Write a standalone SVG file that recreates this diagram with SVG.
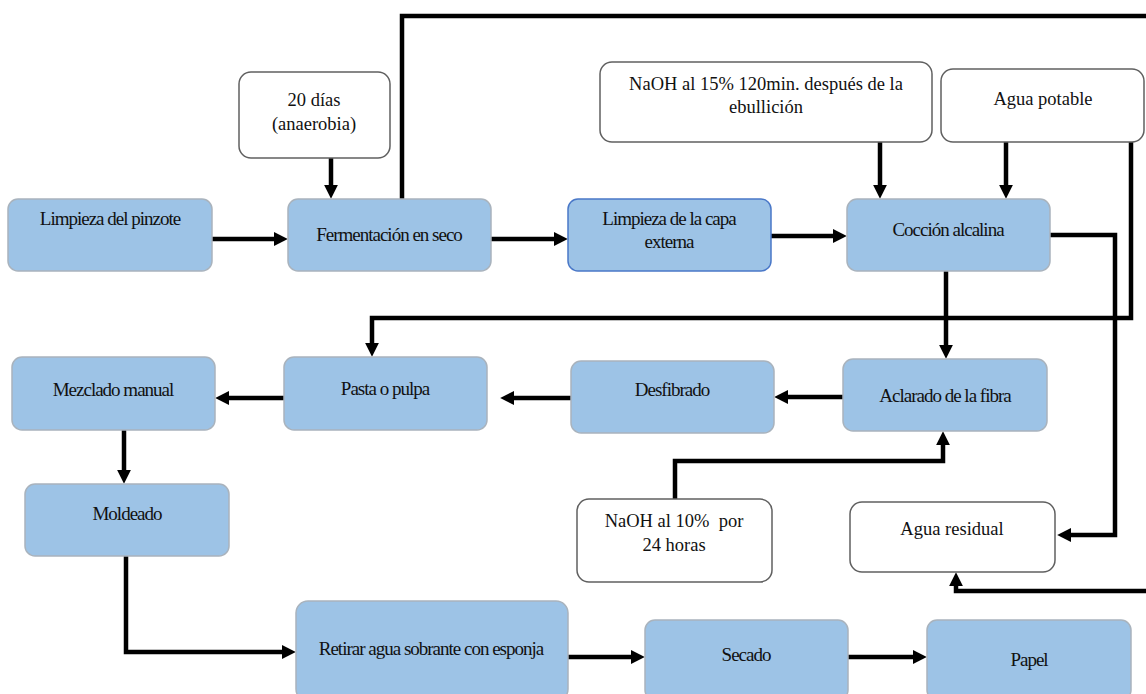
<svg xmlns="http://www.w3.org/2000/svg" width="1146" height="694" viewBox="0 0 1146 694">
<style>
.b{fill:#9dc3e6;stroke:#a9b3bd;stroke-width:1.5}
.bb{fill:#9dc3e6;stroke:#4a78c8;stroke-width:1.5}
.w{fill:#ffffff;stroke:#606060;stroke-width:1.5}
.t{font-family:'Liberation Serif','DejaVu Serif',serif;font-size:19px;letter-spacing:-1px;fill:#111;text-anchor:middle}
.tw{font-family:'Liberation Serif','DejaVu Serif',serif;font-size:18.5px;fill:#111;text-anchor:middle}
.c path{fill:none;stroke:#000;stroke-width:4.5;stroke-linejoin:miter}
</style>
<defs>
<marker id="ah" viewBox="0 0 10 10" refX="3" refY="5" markerWidth="14" markerHeight="14" markerUnits="userSpaceOnUse" orient="auto">
<path d="M0,0 L10,5 L0,10 z" fill="#000"/>
</marker>
</defs>
<rect width="1146" height="694" fill="#fff"/>

<g class="c">
<path d="M212,239 H278" marker-end="url(#ah)"/>
<path d="M331,158 V189" marker-end="url(#ah)"/>
<path d="M402,199 V16 H1146"/>
<path d="M491,239 H558" marker-end="url(#ah)"/>
<path d="M771,236 H837" marker-end="url(#ah)"/>
<path d="M880,142 V189" marker-end="url(#ah)"/>
<path d="M1006,142 V189" marker-end="url(#ah)"/>
<path d="M1131,142 V318 H372 V347" marker-end="url(#ah)"/>
<path d="M946,271 V349" marker-end="url(#ah)"/>
<path d="M1050,235 H1115 V535 H1067" marker-end="url(#ah)"/>
<path d="M1146,591 H956 V582" marker-end="url(#ah)"/>
<path d="M675,499 V461 H943 V441" marker-end="url(#ah)"/>
<path d="M843,397 H784" marker-end="url(#ah)"/>
<path d="M571,398 H510" marker-end="url(#ah)"/>
<path d="M284,398 H225" marker-end="url(#ah)"/>
<path d="M124,430 V474" marker-end="url(#ah)"/>
<path d="M126,556 V652 H286" marker-end="url(#ah)"/>
<path d="M568,657 H635" marker-end="url(#ah)"/>
<path d="M848,657 H917" marker-end="url(#ah)"/>
</g>

<g id="n-limpieza-pinzote"><rect class="b" x="8" y="199" width="204" height="72" rx="10"/><text class="t" x="110" y="225">Limpieza del pinzote</text></g>
<g id="n-fermentacion"><rect class="b" x="288" y="199" width="203" height="72" rx="10"/><text class="t" x="389" y="241">Fermentación en seco</text></g>
<g id="n-limpieza-capa"><rect class="bb" x="568" y="199" width="203" height="72" rx="10"/><text class="t" x="669" y="225">Limpieza de la capa</text><text class="t" x="669" y="248">externa</text></g>
<g id="n-coccion"><rect class="b" x="847" y="199" width="203" height="72" rx="10"/><text class="t" x="948" y="236">Cocción alcalina</text></g>
<g id="n-pasta"><rect class="b" x="284" y="357" width="203" height="73" rx="10"/><text class="t" x="385" y="395">Pasta o pulpa</text></g>
<g id="n-mezclado"><rect class="b" x="12" y="357" width="203" height="73" rx="10"/><text class="t" x="113" y="396">Mezclado manual</text></g>
<g id="n-desfibrado"><rect class="b" x="571" y="361" width="203" height="72" rx="10"/><text class="t" x="672" y="396">Desfibrado</text></g>
<g id="n-aclarado"><rect class="b" x="843" y="359" width="204" height="72" rx="10"/><text class="t" x="945" y="402">Aclarado de la fibra</text></g>
<g id="n-moldeado"><rect class="b" x="25" y="484" width="204" height="72" rx="10"/><text class="t" x="127" y="520">Moldeado</text></g>
<g id="n-retirar"><rect class="b" x="296" y="601" width="272" height="100" rx="12"/><text class="t" x="431" y="655">Retirar agua sobrante con esponja</text></g>
<g id="n-secado"><rect class="b" x="645" y="620" width="203" height="80" rx="10"/><text class="t" x="746" y="661">Secado</text></g>
<g id="n-papel"><rect class="b" x="927" y="620" width="204" height="80" rx="10"/><text class="t" x="1029" y="666">Papel</text></g>

<g id="n-20dias"><rect class="w" x="239" y="72" width="151" height="86" rx="12"/><text class="tw" x="314" y="106">20 días</text><text class="tw" x="314" y="130">(anaerobia)</text></g>
<g id="n-naoh15"><rect class="w" x="600" y="62" width="332" height="80" rx="12"/><text class="tw" x="766" y="90">NaOH al 15% 120min. después de la</text><text class="tw" x="766" y="113">ebullición</text></g>
<g id="n-agua-potable"><rect class="w" x="941" y="69" width="203" height="73" rx="12"/><text class="tw" x="1043" y="105">Agua potable</text></g>
<g id="n-naoh10"><rect class="w" x="577" y="499" width="195" height="83" rx="12"/><text class="tw" x="674" y="527" xml:space="preserve">NaOH al 10%  por</text><text class="tw" x="674" y="551">24 horas</text></g>
<g id="n-agua-residual"><rect class="w" x="850" y="502" width="205" height="70" rx="12"/><text class="tw" x="952" y="535">Agua residual</text></g>
</svg>
